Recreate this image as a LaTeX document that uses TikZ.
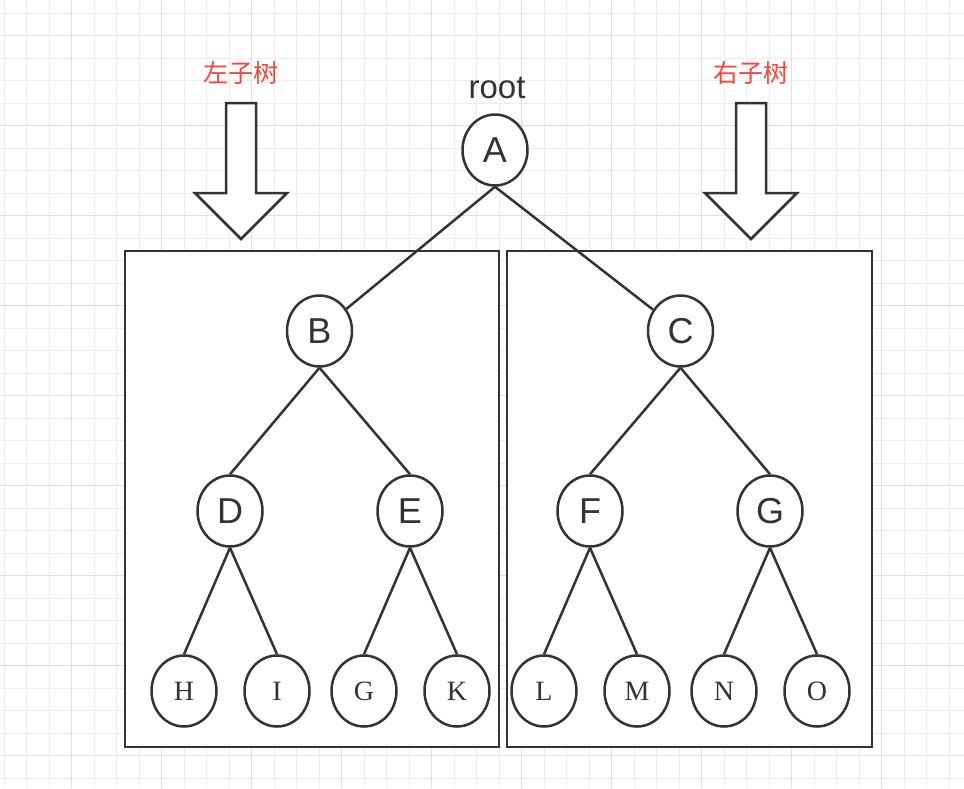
\documentclass[tikz,border=0pt]{standalone}
\usepackage{fontspec}
\newfontfamily\treesans{Liberation Sans}
\newfontfamily\treeserif{Liberation Serif}
\newfontfamily\cjk{Noto Sans CJK SC}
\usetikzlibrary{shapes.geometric}
\definecolor{line grey}{HTML}{333333}
\definecolor{label red}{HTML}{F0483C}
\colorlet{grid minor}{black!7}
\colorlet{grid major}{black!12}
\tikzset{inner/.style={ellipse, draw=line grey, fill=white, line width=2.5pt,
        minimum width=65pt, minimum height=71pt, inner sep=0pt, text=line grey,
        font=\treesans\fontsize{36}{40}\selectfont},
    leaf/.style={inner, font=\treeserif\fontsize{28}{32}\selectfont},
    subtree/.style={fill=white, draw=line grey, line width=2.5pt},
    branch/.style={draw=line grey, line width=2.5pt},
    side label/.style={text=label red, font=\cjk\fontsize{25}{28}\selectfont}}
\def\boxL{(125,251) rectangle (499,747)}
\def\boxR{(507,251) rectangle (872,747)}
\def\bigdown#1{(#1,239) -- ++(46,-46) -- ++(-31,0) -- ++(0,-90) -- ++(-30,0) -- ++(0,90) -- ++(-31,0) -- cycle}

\begin{document}
\begin{tikzpicture}[x=1pt,y=-1pt]
     \useasboundingbox (0,0) rectangle (964,788);
     \fill[white] (0,0) rectangle (964,788);
     \begin{scope}
         \clip (0,0) rectangle (964,788);
         \draw[grid minor, line width=1pt, step=22.5pt, shift={(4,13)}] (-4,-13) grid (960,775);
         \draw[grid major, line width=1pt, step=90pt, shift={(71.5,35.5)}] (-71.5,-35.5) grid (892.5,752.5);
     \end{scope}
     \filldraw[subtree] \boxL;
     \filldraw[subtree] \boxR;
     \filldraw[subtree] \bigdown{241};
     \filldraw[subtree] \bigdown{751};
     \node[side label] (left label) at (241,73) {左子树};
     \node[side label] (right label) at (751,73) {右子树};
     \node[text=line grey, anchor=base, font=\treesans\fontsize{33}{36}\selectfont] (root label) at (497,98) {root};
     % inner nodes
     \node[inner] (A) at (495,150) {A};
     \node[inner] (B) at (319.5,331) {B};
     \node[inner] (C) at (680.5,331) {C};
     \node[inner] (D) at (230,511) {D};
     \node[inner] (E) at (410,511) {E};
     \node[inner] (F) at (590,511) {F};
     \node[inner] (G) at (770,511) {G};
     % leaves
     \node[leaf] (H) at (184,691) {H};
     \node[leaf] (I) at (277,691) {I};
     \node[leaf] (G2) at (364,691) {G};
     \node[leaf] (K) at (457,691) {K};
     \node[leaf] (L) at (544,691) {L};
     \node[leaf] (M) at (637,691) {M};
     \node[leaf] (N) at (724,691) {N};
     \node[leaf] (O) at (817,691) {O};
     \draw[branch] (A.south) -- (B);
     \draw[branch] (A.south) -- (C);
     \foreach \p/\c in {B/D, B/E, C/F, C/G, D/H, D/I, E/G2, E/K, F/L, F/M, G/N, G/O}
         \draw[branch] (\p.south) -- (\c.north);
\end{tikzpicture}
\end{document}
